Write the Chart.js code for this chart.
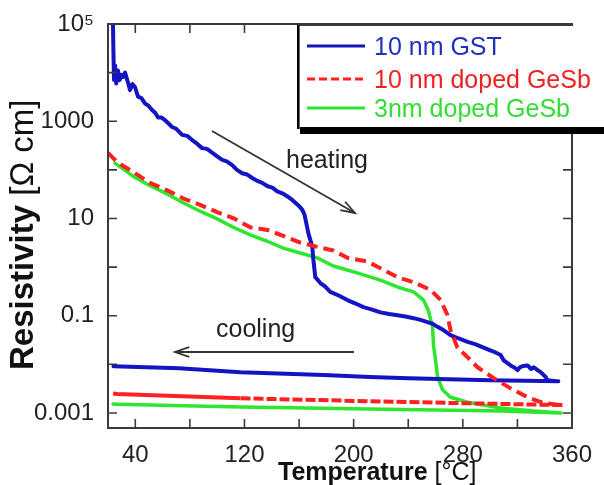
<!DOCTYPE html>
<html><head><meta charset="utf-8">
<script src="https://cdn.jsdelivr.net/npm/chart.js@4"></script>
<style>html,body{margin:0;padding:0;background:#fff;}canvas{display:block;}</style>
</head><body>
<canvas id="c" width="604" height="485"></canvas>
<script>
const FONT = "'Liberation Sans', Arial, Helvetica, sans-serif";

// ---- axis ticks ----
const xTickValues = [40, 80, 120, 160, 200, 240, 280, 320, 360];
const xTickLabels = ['40', '', '120', '', '200', '', '280', '', '360'];
const yTickValues = [1e5, 1e4, 1e3, 1e2, 1e1, 1, 1e-1, 1e-2, 1e-3];
const yTickLabels = ['10⁵', '', '1000', '', '10', '', '0.1', '', '0.001'];

// ---- series names ----
const seriesNames = ['10 nm GST', '10 nm doped GeSb', '3nm doped GeSb'];

// ---- 10 nm GST: heating then cooling (T in °C, resistivity in Ω cm) ----
const gstHeatT = [23.6, 24.0, 24.4, 25.2, 26.0, 27.3, 28.5, 30, 31, 32.5, 34.7, 36.1, 38, 39.8, 42, 44.5, 47.2, 49.5, 52.3, 54.5, 56.7, 59, 61.8, 64, 67, 70, 74.3, 78, 81.7, 85, 89, 92.5, 96.3, 100, 103.7, 107, 111, 114.5, 118.3, 122, 125.7, 129, 133, 137, 140.4, 144, 147.7, 151, 155, 160, 162.4, 164, 166.8, 169.7, 170.5, 171.9, 175.6, 179, 182.9, 189, 195.4, 201, 207.2, 213, 219.6, 226, 232.1, 238, 243.9, 249, 254.1, 258, 261.5, 266, 271, 277, 283.5, 289, 295.2, 301, 304, 307.7, 310, 312, 315, 318, 320.2, 322, 324, 327.5, 330, 332, 335, 337, 340.7, 342.2, 348];
const gstHeatR = [1.2e5, 2.5e4, 7.1e3, 1.4e4, 6.0e3, 1.1e4, 7.0e3, 9.0e3, 8.1e3, 1.0e4, 6.2e3, 4.4e3, 5.8e3, 5.0e3, 3.2e3, 3.0e3, 2.3e3, 2.1e3, 1.7e3, 1.5e3, 1.2e3, 1.2e3, 1.05e3, 920, 760, 700, 525, 500, 410, 350, 280, 270, 225, 190, 160, 150, 125, 100, 85, 80, 68, 60, 54, 46, 43, 36, 33, 29, 24, 18, 15, 12, 5.0, 2.6, 1.4, 0.62, 0.47, 0.40, 0.31, 0.26, 0.21, 0.18, 0.15, 0.135, 0.117, 0.108, 0.102, 0.096, 0.089, 0.082, 0.074, 0.068, 0.059, 0.050, 0.040, 0.034, 0.029, 0.026, 0.022, 0.019, 0.0175, 0.0155, 0.012, 0.011, 0.0095, 0.0085, 0.0076, 0.0088, 0.0092, 0.0095, 0.0080, 0.0087, 0.0075, 0.0069, 0.0055, 0.0047, 0.0045];
const gstCoolT = [350, 300, 240, 212, 178, 117, 72, 24];
const gstCoolR = [0.0045, 0.0047, 0.0052, 0.0055, 0.0060, 0.0069, 0.0083, 0.0091];

// ---- 10 nm doped GeSb ----
const dopedHeatT = [20, 26.6, 38.3, 50.8, 63.3, 75, 87.5, 100, 111.7, 124.2, 136.7, 148.4, 160.9, 173.4, 185.1, 195.4, 210, 219.6, 232.1, 243.9, 256.3, 263.7, 268.8, 271, 276.1, 283.5, 290.8, 302.6, 315, 327.5, 339.3, 351.7];
const dopedHeatR = [224, 145, 91, 54, 38, 26, 19, 13.5, 10.2, 6.6, 5.8, 4.4, 3.2, 2.6, 2.2, 1.55, 1.3, 0.95, 0.62, 0.49, 0.34, 0.21, 0.102, 0.050, 0.022, 0.014, 0.0087, 0.0052, 0.0032, 0.0021, 0.0016, 0.00145];
const dopedCoolT = [353, 283.5, 212, 117, 26.6, 23.7];
const dopedCoolR = [0.00145, 0.00158, 0.00174, 0.0020, 0.00245, 0.0025];

// ---- 3nm doped GeSb ----
const thinHeatT = [25.1, 38.3, 50.8, 63.3, 75, 87.5, 100, 111.7, 124.2, 136.7, 148.4, 160.9, 173.4, 185.1, 195.4, 207.2, 219.6, 232.1, 243.9, 251.2, 254.9, 257.8, 258.5, 260, 261.5, 265.1, 271, 283.5, 295.2, 307.7, 332, 351.7];
const thinHeatR = [138, 74, 47, 32, 21, 14.1, 9.8, 6.6, 4.6, 3.4, 2.45, 1.95, 1.55, 1.05, 0.87, 0.69, 0.54, 0.39, 0.31, 0.21, 0.123, 0.059, 0.025, 0.0123, 0.0055, 0.0030, 0.0021, 0.00166, 0.00145, 0.00126, 0.0011, 0.0010];
const thinCoolT = [352, 307.7, 212, 117, 26.6, 23.7];
const thinCoolR = [0.0010, 0.0011, 0.0012, 0.00132, 0.00151, 0.00152];

const COLORS = ['#1414c4', '#ff2020', '#2ee62e'];
const TEXT_COLORS = ['#2230bb', '#ee2222', '#33dd33'];

function pts(T, R) { return T.map((t, i) => ({ x: t, y: R[i] })); }

const decor = {
  id: 'decor',
  afterDatasetsDraw(chart) {
    const { ctx, chartArea: a, scales: { x, y } } = chart;
    ctx.save();
    ctx.strokeStyle = '#3a3a3a';
    ctx.lineWidth = 2;
    ctx.strokeRect(a.left, a.top, a.right - a.left, a.bottom - a.top);
    ctx.lineWidth = 1.6;
    ctx.beginPath();
    xTickValues.forEach(v => {
      const px = x.getPixelForValue(v);
      if (px > a.right - 3) return;
      ctx.moveTo(px, a.bottom); ctx.lineTo(px, a.bottom - 9);
      ctx.moveTo(px, a.top); ctx.lineTo(px, a.top + 9);
    });
    yTickValues.forEach(v => {
      const py = y.getPixelForValue(v);
      if (py < a.top + 3) return;
      ctx.moveTo(a.left, py); ctx.lineTo(a.left + 9, py);
      ctx.moveTo(a.right, py); ctx.lineTo(a.right - 9, py);
    });
    ctx.stroke();
    ctx.restore();
  },
  afterDraw(chart) {
    const { ctx } = chart;
    ctx.save();
    // legend box
    ctx.fillStyle = '#fff';
    ctx.fillRect(299, 25, 310, 103);
    ctx.fillStyle = '#000';
    ctx.fillRect(300, 127, 310, 7);
    ctx.fillRect(297, 24, 2.6, 105);
    ctx.strokeStyle = '#3a3a3a'; ctx.lineWidth = 2;
    ctx.beginPath(); ctx.moveTo(298, 25); ctx.lineTo(573, 25); ctx.stroke();
    const rows = [55, 88, 117];
    ctx.font = '25px ' + FONT;
    ctx.textBaseline = 'alphabetic';
    ctx.textAlign = 'left';
    rows.forEach((yb, i) => {
      const ly = yb - 9;
      ctx.strokeStyle = COLORS[i];
      ctx.lineWidth = 3;
      ctx.setLineDash(i === 1 ? [8, 4] : []);
      ctx.beginPath(); ctx.moveTo(307, ly); ctx.lineTo(365, ly); ctx.stroke();
      ctx.setLineDash([]);
      ctx.fillStyle = TEXT_COLORS[i];
      ctx.fillText(seriesNames[i], 374, yb);
    });
    // annotations
    ctx.strokeStyle = '#333'; ctx.fillStyle = '#333'; ctx.lineWidth = 1.8;
    function arrow(x1, y1, x2, y2) {
      ctx.beginPath(); ctx.moveTo(x1, y1); ctx.lineTo(x2, y2); ctx.stroke();
      const ang = Math.atan2(y2 - y1, x2 - x1), L = 15, w = 0.33;
      ctx.beginPath();
      ctx.moveTo(x2 - L * Math.cos(ang - w), y2 - L * Math.sin(ang - w));
      ctx.lineTo(x2, y2);
      ctx.lineTo(x2 - L * Math.cos(ang + w), y2 - L * Math.sin(ang + w));
      ctx.stroke();
    }
    arrow(212, 131, 355, 213);
    arrow(354, 352, 175, 352);
    ctx.fillStyle = '#222';
    ctx.font = '25px ' + FONT;
    ctx.fillText('heating', 286, 168);
    ctx.fillText('cooling', 216, 337);
    // x title
    ctx.fillStyle = '#111';
    ctx.font = 'bold 25px ' + FONT;
    const tw = ctx.measureText('Temperature').width;
    ctx.fillText('Temperature', 278, 480);
    ctx.font = '25px ' + FONT;
    ctx.fillText(' [°C]', 278 + tw, 480);
    // y title
    ctx.translate(33, 370);
    ctx.rotate(-Math.PI / 2);
    ctx.font = 'bold 33px ' + FONT;
    const rw = ctx.measureText('Resistivity').width;
    ctx.fillText('Resistivity', 0, 0);
    ctx.font = '33px ' + FONT;
    ctx.fillText(' [Ω cm]', rw, 0);
    ctx.restore();
  }
};

const common = { pointRadius: 0, tension: 0, fill: false, borderJoinStyle: 'round', borderCapStyle: 'round' };

new Chart(document.getElementById('c'), {
  type: 'line',
  data: {
    datasets: [
      Object.assign({}, common, {
        label: seriesNames[1],
        data: pts(dopedHeatT.concat(dopedCoolT), dopedHeatR.concat(dopedCoolR)),
        borderColor: COLORS[1], borderWidth: 4, borderDash: [11, 6], borderCapStyle: 'butt',
        segment: {
          borderDash: c => (c.p1.parsed.x < c.p0.parsed.x ? (c.p1.parsed.x < 100 ? [] : [10, 3]) : undefined)
        },
        order: 0
      }),
      Object.assign({}, common, {
        label: seriesNames[0],
        data: pts(gstHeatT.concat(gstCoolT), gstHeatR.concat(gstCoolR)),
        borderColor: COLORS[0], borderWidth: 4, order: 1
      }),
      Object.assign({}, common, {
        label: seriesNames[2],
        data: pts(thinHeatT.concat(thinCoolT), thinHeatR.concat(thinCoolR)),
        borderColor: COLORS[2], borderWidth: 3.5, order: 2
      })
    ]
  },
  options: {
    responsive: false,
    animation: false,
    devicePixelRatio: 1,
    layout: { padding: { left: 0, top: 24, right: 32, bottom: 0 } },
    plugins: { legend: { display: false }, tooltip: { enabled: false } },
    scales: {
      x: {
        type: 'linear', min: 20, max: 360,
        grid: { display: false }, border: { display: false },
        afterBuildTicks: s => { s.ticks = xTickValues.map(v => ({ value: v })); },
        afterFit: s => { s.height = 57; },
        ticks: {
          autoSkip: false, maxRotation: 0, padding: 5,
          color: '#222', font: { family: FONT, size: 24 },
          callback: v => { const i = xTickValues.indexOf(v); return i >= 0 ? xTickLabels[i] : ''; }
        }
      },
      y: {
        type: 'logarithmic', min: 4.9e-4, max: 1e5,
        grid: { display: false }, border: { display: false },
        afterBuildTicks: s => { s.ticks = yTickValues.map(v => ({ value: v })); },
        afterFit: s => { s.width = 108; },
        ticks: {
          autoSkip: false, padding: 6,
          color: '#222', font: { family: FONT, size: 24 },
          callback: v => {
            const i = yTickValues.findIndex(t => Math.abs(Math.log10(t) - Math.log10(v)) < 1e-6);
            return i >= 0 ? yTickLabels[i] : '';
          }
        }
      }
    }
  },
  plugins: [decor]
});
</script>
</body></html>
